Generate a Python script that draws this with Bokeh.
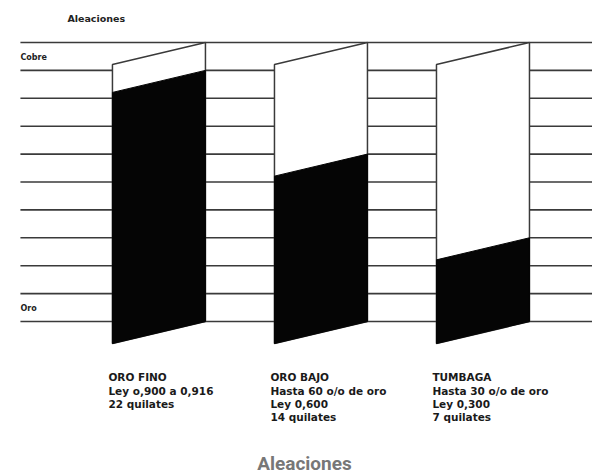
from bokeh.plotting import figure
from bokeh.models import Range1d
from bokeh.core.properties import value
from bokeh.embed import file_html
from bokeh.resources import INLINE

# ---- data ----
categories = ["ORO FINO", "ORO BAJO", "TUMBAGA"]
gold_share = [0.90, 0.60, 0.30]          # share of gold (Ley)
caption_lines = [
    ["ORO FINO", "Ley o,900 a 0,916", "22 quilates"],
    ["ORO BAJO", "Hasta 60 o/o de oro", "Ley 0,600", "14 quilates"],
    ["TUMBAGA", "Hasta 30 o/o de oro", "Ley 0,300", "7 quilates"],
]
scale_levels = [i / 10 for i in range(11)]   # 0.0 ... 1.0
side_labels = ["Cobre", "Oro"]
side_label_levels = [0.946, 0.047]
header = "Aleaciones"
caption = "Aleaciones"

# ---- style / layout ----
bar_w = 0.574
slant = 0.079
line_col = "#3a3a3a"
x_lo, x_hi = -0.978, 2.676
y_lo, y_hi = -0.552, 1.1505
line_start = -0.855

p = figure(width=592, height=475, output_backend="svg", toolbar_location=None,
           x_range=Range1d(x_lo, x_hi), y_range=Range1d(y_lo, y_hi),
           min_border=0, outline_line_color=None)
p.axis.visible = False
p.grid.visible = False
p.background_fill_color = "white"
p.border_fill_color = "white"

# horizontal scale lines
p.segment(x0=[line_start] * len(scale_levels), x1=[x_hi] * len(scale_levels),
          y0=scale_levels, y1=scale_levels, line_color=line_col, line_width=1.6)

# bars as slanted parallelograms
xs_full, ys_full, xs_gold, ys_gold = [], [], [], []
for i, g in enumerate(gold_share):
    l, r = i - bar_w / 2, i + bar_w / 2
    xs_full.append([l, r, r, l])
    ys_full.append([-slant, 0, 1, 1 - slant])
    xs_gold.append([l, r, r, l])
    ys_gold.append([-slant, 0, g, g - slant])

p.patches(xs_full, ys_full, fill_color="white", line_color=line_col, line_width=1.5)
p.patches(xs_gold, ys_gold, fill_color="#050505", line_color="#050505", line_width=1)

# side labels
lab_font = value("DejaVu Sans")
p.text(x=[-0.565], y=[1.086], text=[header], text_font=lab_font, text_font_size="9.5px",
       text_font_style="bold", text_color="#222222", text_baseline="middle", text_align="left")
p.text(x=[line_start] * len(side_labels), y=side_label_levels, text=side_labels,
       text_font=lab_font, text_font_size="8px", text_font_style="bold",
       text_color="#222222", text_baseline="middle", text_align="left")

# captions under bars
cx, cy, ct = [], [], []
for i, lines in enumerate(caption_lines):
    for k, t in enumerate(lines):
        cx.append(i - bar_w / 2 - 0.025)
        cy.append(-0.2007 - 0.0477 * k)
        ct.append(t)
p.text(x=cx, y=cy, text=ct, text_font=lab_font, text_font_size="10.5px",
       text_font_style="bold", text_color="#1a1a1a", text_baseline="middle", text_align="left")

# bottom caption
p.text(x=[0.898], y=[-0.509], text=[caption],
       text_font=value("Roboto"), text_font_size="19px",
       text_font_style="bold", text_color="#777777", text_baseline="middle", text_align="center")

open("out.html", "w").write(file_html(p, INLINE))
